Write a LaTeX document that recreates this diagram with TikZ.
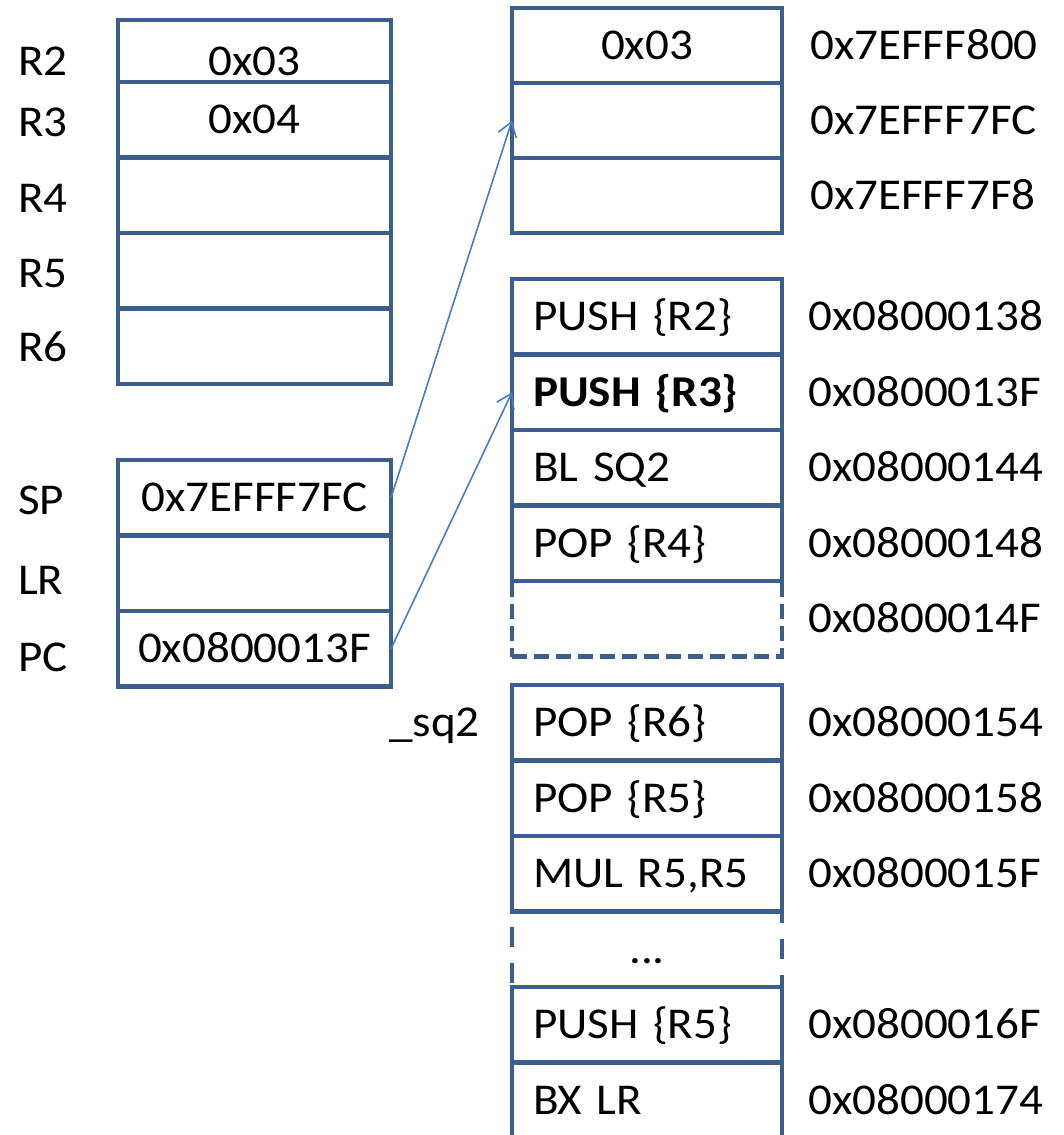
\documentclass[tikz,border=0pt]{standalone}
\usepackage{fontspec}
\setmainfont{Carlito}[FakeStretch=1.07]
\usepackage{tikz}
\usetikzlibrary{arrows.meta,positioning}
\definecolor{cellblue}{RGB}{59,94,140}
\definecolor{linkblue}{RGB}{74,126,187}
\newcommand\cellfont{\fontsize{44}{52}\selectfont\setlength{\spaceskip}{8pt}}

\begin{document}
\begin{tikzpicture}[
  x=1pt, y=-1pt,
  node distance=0pt,
  cell/.style={rectangle, draw=cellblue, line width=4.5pt, minimum width=273pt, minimum height=75.5pt, inner sep=0pt, outer sep=0pt, text height=28pt, text depth=0pt, font=\cellfont},
  slot/.style={cell, minimum width=270pt, minimum height=75pt},
  instr/.style={cell, minimum width=270pt, text width=228pt, inner xsep=21pt, align=left},
  gapbox/.style={instr, dash pattern=on 15pt off 7pt},
  lbl/.style={anchor=west, inner sep=0pt, text height=28pt, text depth=0pt, font=\cellfont},
  dashside/.style={draw=cellblue, line width=4.5pt, dash pattern=on 20pt off 16pt},
  link/.style={linkblue, line width=1.6pt, -{Straight Barb[length=14pt, width=19pt]}}
]
\useasboundingbox (0,0) rectangle (1063,1135);
\clip (0,0) rectangle (1063,1135);

% registers
\node[cell, minimum height=62pt, text height=48pt] (reg2) at (254.5,51) {0x03};
\node[cell, below=of reg2] (reg3) {0x04};
\node[cell, below=of reg3] (reg4) {};
\node[cell, below=of reg4] (reg5) {};
\node[cell, below=of reg5] (reg6) {};

\node[lbl] (nr2) at (18,61.5) {R2};
\node[lbl] (nr3) at (18,122.5) {R3};
\node[lbl] (nr4) at (18,198) {R4};
\node[lbl] (nr5) at (18,273) {R5};
\node[lbl] (nr6) at (18,347) {R6};

\node[cell] (sp) at (254.5,497.75) {0x7EFFF7FC};
\node[cell, below=of sp] (lr) {};
\node[cell, below=of lr] (pc) {0x0800013F};

\node[lbl] (nsp) at (18,500) {SP};
\node[lbl] (nlr) at (18,580) {LR};
\node[lbl] (npc) at (18,657) {PC};

% stack
\node[slot] (stk0) at (647,45.5) {0x03};
\node[slot, below=of stk0] (stk1) {};
\node[slot, below=of stk1] (stk2) {};

\node[lbl, right=28pt of stk0] (astk0) {0x7EFFF800};
\node[lbl, right=28pt of stk1] (astk1) {0x7EFFF7FC};
\node[lbl, right=28pt of stk2] (astk2) {0x7EFFF7F8};

% code
\node[instr] (c138) at (647,316.75) {PUSH \{R2\}};
\node[instr, below=of c138] (c13f) {\textbf{PUSH \{R3\}}};
\node[instr, below=of c13f] (c144) {BL SQ2};
\node[instr, below=of c144] (c148) {POP \{R4\}};
\node[gapbox, below=of c148] (c14f) {};

\node[lbl, right=26pt of c138] (a138) {0x08000138};
\node[lbl, right=26pt of c13f] (a13f) {0x0800013F};
\node[lbl, right=26pt of c144] (a144) {0x08000144};
\node[lbl, right=26pt of c148] (a148) {0x08000148};
\node[lbl, right=26pt of c14f] (a14f) {0x0800014F};

\node[instr] (c154) at (647,722.75) {POP \{R6\}};
\node[instr, below=of c154] (c158) {POP \{R5\}};
\node[instr, below=of c158] (c15f) {MUL R5,R5};
\node[cell, minimum width=270pt, draw=none, below=of c15f] (cdots) {...};
\node[instr, below=of cdots] (c16f) {PUSH \{R5\}};
\node[instr, below=of c16f] (c174) {BX LR};

\draw[dashside, dash phase=21pt] (cdots.north west) -- (cdots.south west);
\draw[dashside, dash phase=9pt] (cdots.north east) -- (cdots.south east);

\node[lbl, left=32pt of c154] (sq2) {\_sq2};

\node[lbl, right=26pt of c154] (a154) {0x08000154};
\node[lbl, right=26pt of c158] (a158) {0x08000158};
\node[lbl, right=26pt of c15f] (a15f) {0x0800015F};
\node[lbl, right=26pt of c16f] (a16f) {0x0800016F};
\node[lbl, right=26pt of c174] (a174) {0x08000174};

\draw[link] (sp.east) -- (stk1.west);
\draw[link] (pc.east) -- (c13f.west);
\end{tikzpicture}
\end{document}
